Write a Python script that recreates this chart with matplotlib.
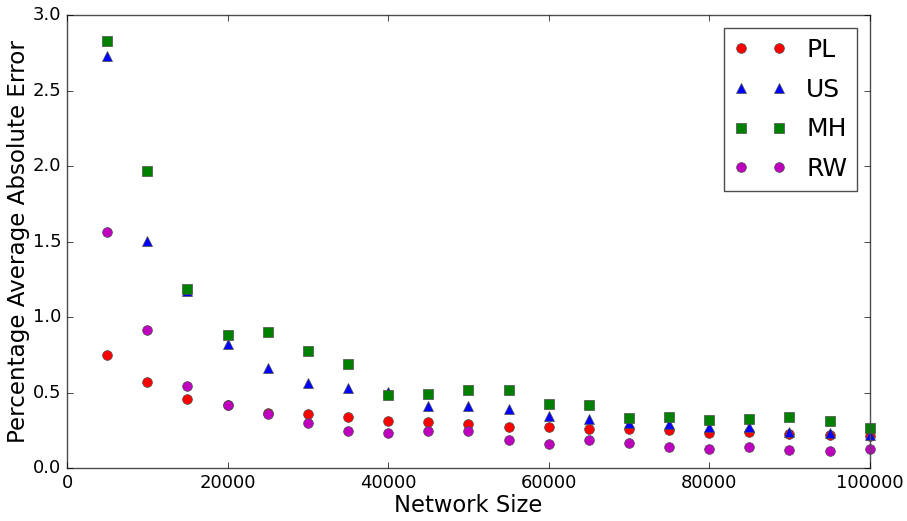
import matplotlib
matplotlib.use("Agg")
import matplotlib.pyplot as plt

plt.style.use("classic")

sizes = [5000, 10000, 15000, 20000, 25000, 30000, 35000, 40000, 45000, 50000,
         55000, 60000, 65000, 70000, 75000, 80000, 85000, 90000, 95000, 100000]
pl = [0.75, 0.57, 0.455, 0.415, 0.365, 0.358, 0.336, 0.313, 0.303, 0.293,
      0.272, 0.272, 0.256, 0.256, 0.252, 0.23, 0.238, 0.227, 0.22, 0.214]
us = [2.73, 1.505, 1.17, 0.82, 0.662, 0.561, 0.53, 0.505, 0.413, 0.413,
      0.389, 0.344, 0.324, 0.295, 0.291, 0.274, 0.27, 0.238, 0.23, 0.218]
mh = [2.83, 1.97, 1.185, 0.88, 0.899, 0.773, 0.69, 0.483, 0.488, 0.515,
      0.515, 0.424, 0.42, 0.331, 0.336, 0.318, 0.324, 0.34, 0.309, 0.267]
rw = [1.567, 0.914, 0.543, 0.415, 0.36, 0.30, 0.247, 0.234, 0.247, 0.243,
      0.188, 0.159, 0.183, 0.168, 0.141, 0.124, 0.137, 0.119, 0.11, 0.128]

series = [("PL", pl, "o", "r"), ("US", us, "^", "b"),
          ("MH", mh, "s", "g"), ("RW", rw, "o", "m")]

fig = plt.figure(figsize=(9.07, 5.21), dpi=100, facecolor="white")
ax = fig.add_axes([0.0739, 0.1017, 0.885, 0.869])
for name, vals, mk, col in series:
    ax.plot(sizes, vals, linestyle="none", marker=mk, color=col,
            markersize=7, markeredgewidth=0.5, markeredgecolor="0.3",
            label=name, clip_on=False)

ax.set_xlim(0, 100000)
ax.set_ylim(0, 3.0)
ax.set_xticks([0, 20000, 40000, 60000, 80000, 100000])
ax.set_yticks([0.0, 0.5, 1.0, 1.5, 2.0, 2.5, 3.0])
ax.set_yticklabels(["0.0", "0.5", "1.0", "1.5", "2.0", "2.5", "3.0"])
ax.tick_params(labelsize=13)
ax.set_xlabel("Network Size", fontsize=16.3, labelpad=2)
ax.set_ylabel("Percentage Average Absolute Error", fontsize=16.6, labelpad=2)
for s in ax.spines.values():
    s.set_color("0.3")
leg = ax.legend(loc="upper right", numpoints=2, fontsize=18, borderpad=0.4,
                labelspacing=0.63, handlelength=2.1, handletextpad=0.8,
                borderaxespad=0.5)
leg.get_frame().set_edgecolor("0.3")
fig.savefig("out.png", dpi=100, facecolor="white")
